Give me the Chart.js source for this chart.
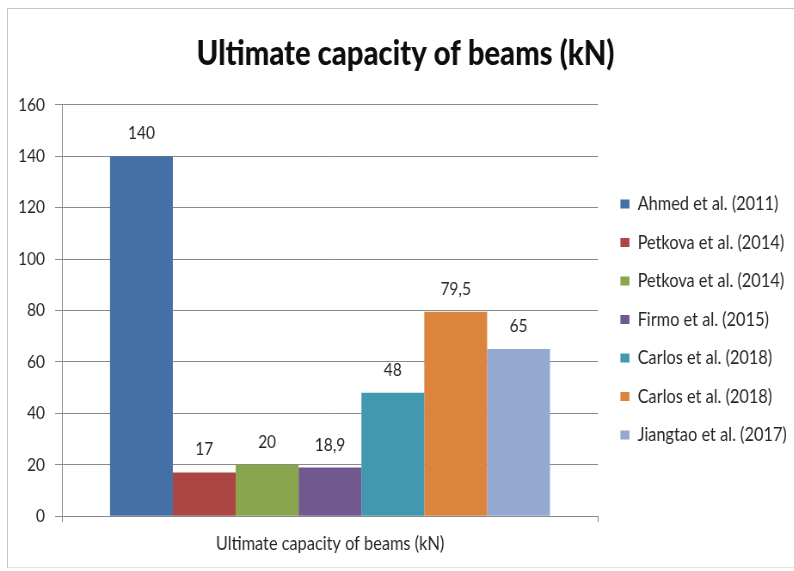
<!DOCTYPE html>
<html>
<head>
<meta charset="utf-8">
<title>Ultimate capacity of beams (kN)</title>
<script src="https://cdn.jsdelivr.net/npm/chart.js@4/dist/chart.umd.min.js"></script>
<style>
  html, body { margin: 0; padding: 0; background: #fff; overflow: hidden; width: 794px; height: 571px; }
  #frame { position: absolute; left: 7px; top: 8px; width: 820px; height: 558px;
           border-left: 1px solid #c6c6c6; border-top: 1px solid #c6c6c6; border-bottom: 1px solid #e2e2e2; }
  /* the chart is laid out wide and squeezed horizontally for its narrow lettering */
  #wrap { position: absolute; left: 0; top: 0; transform: scaleX(0.86); transform-origin: 0 0; }
</style>
</head>
<body>
<div id="frame"></div>
<div id="wrap"><canvas id="c" width="923" height="571"></canvas></div>
<script>
// Data
const categories = ['Ultimate capacity of beams (kN)'];
const seriesNames = [
  'Ahmed et al. (2011)',
  'Petkova et al. (2014)',
  'Petkova et al. (2014)',
  'Firmo et al. (2015)',
  'Carlos et al. (2018)',
  'Carlos et al. (2018)',
  'Jiangtao et al. (2017)'
];
const ahmed2011 = [140];
const petkova2014a = [17];
const petkova2014b = [20];
const firmo2015 = [18.9];
const carlos2018a = [48];
const carlos2018b = [79.5];
const jiangtao2017 = [65];
const seriesValues = [ahmed2011, petkova2014a, petkova2014b, firmo2015, carlos2018a, carlos2018b, jiangtao2017];
const yTickMin = 0;
const yTickMax = 160;
const yTickStep = 20;

// Styling
const seriesColors = ['#4470A6', '#AA4643', '#89A54E', '#71588F', '#4198AF', '#DB843D', '#93A9CF'];
const FONT = 'Lato';
const axisGrey = '#8a8a8a';
const textColor = '#262626';

// Value labels above each bar, decimal comma as in the labels
const valueLabels = {
  id: 'valueLabels',
  afterDatasetsDraw(chart) {
    const ctx = chart.ctx;
    ctx.save();
    ctx.font = '18px ' + FONT;
    ctx.fillStyle = textColor;
    ctx.textAlign = 'center';
    ctx.textBaseline = 'alphabetic';
    chart.data.datasets.forEach((ds, i) => {
      const meta = chart.getDatasetMeta(i);
      meta.data.forEach((bar, j) => {
        ctx.fillText(String(ds.data[j]).replace('.', ','), bar.x, bar.y - 17);
      });
    });
    ctx.restore();
  }
};

new Chart(document.getElementById('c'), {
  type: 'bar',
  data: {
    labels: categories,
    datasets: seriesNames.map((name, i) => ({
      label: name,
      data: seriesValues[i],
      backgroundColor: seriesColors[i],
      borderWidth: 0,
      categoryPercentage: 0.821,
      barPercentage: 1
    }))
  },
  options: {
    responsive: false,
    animation: false,
    devicePixelRatio: 1,
    layout: { padding: { left: 20, right: 0, top: 0, bottom: 6 } },
    plugins: {
      tooltip: { enabled: false },
      title: {
        display: true,
        text: 'Ultimate capacity of beams (kN)',
        color: '#0d0d0d',
        font: { family: FONT, size: 34, weight: '900', lineHeight: 1.2 },
        padding: { top: 34, bottom: 30 }
      },
      legend: {
        position: 'right',
        align: 'center',
        fullSize: false,
        maxWidth: 221.1,
        title: { display: true, text: ' ', font: { size: 10, lineHeight: 1.8 }, padding: 0 },
        labels: {
          boxWidth: 10.5,
          boxHeight: 9,
          padding: 19.5,
          color: textColor,
          font: { family: FONT, size: 19 }
        }
      }
    },
    scales: {
      x: {
        grid: { display: true, drawOnChartArea: false, color: axisGrey, tickLength: 6 },
        border: { color: axisGrey },
        ticks: { color: textColor, padding: 10, font: { family: FONT, size: 19 }, maxRotation: 0 }
      },
      y: {
        min: yTickMin,
        max: yTickMax,
        ticks: { stepSize: yTickStep, color: textColor, padding: 11.7, font: { family: FONT, size: 18 } },
        grid: { color: axisGrey, tickLength: 8.1 },
        border: { color: axisGrey },
        afterFit(scale) { scale.width = 52.1; }
      },
      gap: {
        type: 'linear',
        axis: 'y',
        position: 'right',
        grid: { display: false },
        ticks: { display: false },
        border: { display: false },
        afterFit(scale) { scale.width = 6.6; }
      }
    }
  },
  plugins: [valueLabels]
});
</script>
</body>
</html>
